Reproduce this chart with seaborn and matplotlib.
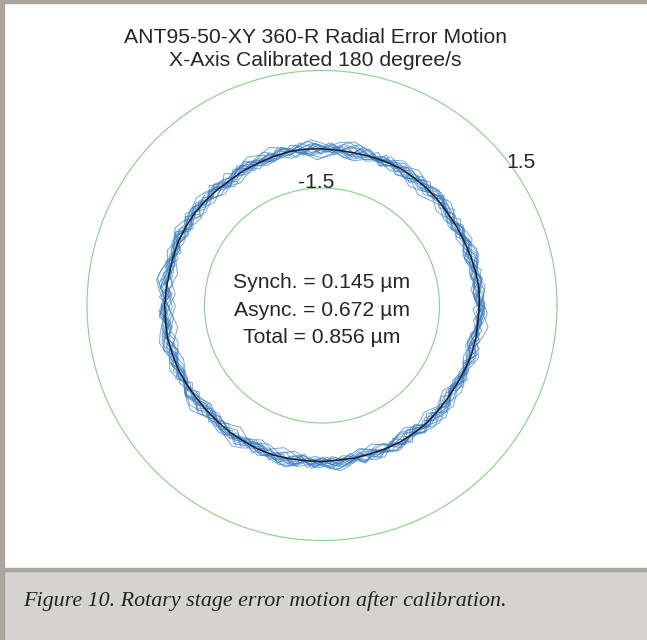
import numpy as np
import pandas as pd
import matplotlib
matplotlib.use("Agg")
import matplotlib.pyplot as plt
from matplotlib.patches import Rectangle
import seaborn as sns

# ============================================================
# DATA  (radial error per revolution)
# ============================================================

TITLE = "ANT95-50-XY 360-R Radial Error Motion\nX-Axis Calibrated 180 degree/s"
STATS = "Synch. = 0.145 µm\nAsync. = 0.672 µm\nTotal = 0.856 µm"
CAPTION = "Figure 10. Rotary stage error motion after calibration."

GRID_LEVELS = [-1.5, 1.5]
BASE_RADIUS = -0.5
ERR_UNIT = 1 / 62.0        # slow revolutions, read in 1/62 grid unit
ERR_UNIT_FINE = 1 / 95.0   # jittery revolutions, read in 1/95 grid unit

# synchronous (average) error profile
mean_dev = [1, 2, 1, 0, -1, -1, -1, 0, 1, 1, 2, 1, 0, -1, -1, 0, 1, 1, 0, -1,
            -1, -2, -1, 0, 1, 1, 1, 0, -1, 0, 1, 1, 2, 1, 1, 0, -1, -1, -1, 0,
            0, 1, 1, 0, -1, -1, -2, -1, -1, 0, 1, 1, 1, 0, -1, -1, 0, 1, 1, 0]

# start angle of each recorded revolution (degrees)
rev_start = [0.0, 7.0, 3.5, 11.0, 1.8, 9.2, 5.4, 13.1]
fine_start = [0.0, 1.9, 0.8, 2.9, 1.3, 3.4, 0.4, 2.3]

rev_a = [3, 7, 2, -4, -9, -6, 1, 5, 12, 9, 4, -1,
         -3, 2, 6, 3, -5, -11, -14, -8, -2, 4, 1, -3,
         0, 6, 10, 14, 11, 5, 0, -4, -7, -2, 3, -1,
         -6, -10, -5, 2, 8, 6, 2, 5, 9, 4, -3, -8,
         -12, -9, -4, 1, -2, -6, -1, 7, 13, 17, 12, 6,
         1, -3, 0, 4, 1, -5, -9, -13, -10, -4, 3, 9,
         5, 1, -2, 3, 8, 11, 6, -1, -7, -4, 0, -4,
         -10, -15, -11, -5, 2, 6, 3, 8, 12, 7, 2, -3,
         -1, 4, 0, -6, -11, -7, -2, 3, 10, 15, 10, 4,
         -1, -5, -9, -6, -1, 3, -2, -7, -4, 2, 6, 1]
rev_b = [-6, -2, 4, 9, 5, -1, 2, 7, 3, -4, -10, -13,
         -7, 0, 6, 11, 15, 10, 3, -2, -6, -3, 1, -3,
         -8, -12, -6, 1, 4, 9, 6, 0, -5, -1, 5, 12,
         8, 2, -4, -9, -14, -9, -3, 2, -1, 4, 10, 7,
         1, -4, -8, -3, 3, 8, 13, 16, 9, 2, -3, 0,
         4, -2, -9, -13, -8, -2, 3, 7, 2, -3, 1, 6,
         11, 6, -1, -7, -11, -16, -10, -3, 4, 8, 5, 9,
         13, 8, 1, -4, -1, 3, -2, -8, -5, 2, 7, 11,
         5, -2, -7, -12, -8, -3, 1, -2, 4, 9, 14, 9,
         3, -3, -7, -3, 2, -3, -9, -6, 0, 5, 1, -4, -8]
rev_c = [8, 12, 6, 0, -5, -2, 3, -1, -7, -12, -8, -1,
         5, 10, 7, 2, 6, 11, 15, 9, 2, -4, -9, -5,
         1, -3, -8, -13, -17, -10, -3, 3, 8, 4, -1, 3,
         8, 4, -3, -6, -2, 5, 10, 14, 10, 3, -3, -8,
         -4, 1, -3, -9, -14, -10, -4, 2, 7, 3, 7, 12,
         16, 11, 4, -2, -6, -2, 2, -2, -7, -11, -6, 0,
         6, 2, -3, 1, 6, 10, 5, -2, -8, -13, -9, -3,
         4, 9, 13, 8, 2, -3, 0, 5, 1, -5, -10, -15,
         -9, -2, 3, 7, 11, 6, 0, -4, 1, 7, 3, -2,
         -7, -3, 2, 8, 14, 9]
rev_d = [-9, -4, 2, -2, -7, -11, -6, 1, 8, 13, 8, 2,
         -2, 3, 7, 2, -4, -9, -5, 0, 5, 11, 16, 11,
         4, -1, -6, -10, -6, -1, 3, -1, -6, -2, 4, 9,
         5, -3, -9, -14, -9, -2, 5, 10, 6, 1, 5, 9,
         4, -2, -7, -3, 2, -3, -10, -16, -11, -4, 3, 8,
         12, 7, 1, -4, 0, 6, 11, 5, -1, -6, -11, -7,
         -1, 4, 1, -4, -8, -3, 4, 9, 14, 9, 3, -2,
         -6, -2, 4, 0, -6, -12, -8, -2, 5, 11, 7, 2,
         6, 10, 5, -1, -5, -10, -14, -8, -2, 3, -1, -5,
         0, 6, 12, 17, 10, 3, -3, -8, -4]
rev_e = [5, 0, -5, -1, 4, 9, 13, 7, 1, -3, -8, -12,
         -7, -2, 2, -2, -6, 0, 7, 12, 6, 0, -5, -2,
         3, 8, 4, -3, -9, -14, -10, -4, 2, 7, 11, 16,
         10, 4, -2, -6, -2, 3, -1, -7, -12, -7, 0, 6,
         3, -2, 2, 7, 12, 7, 1, -5, -10, -15, -9, -3,
         3, 8, 5, 0, 4, 9, 14, 9, 2, -3, -7, -3,
         1, -4, -9, -5, 1, 6, 2, -4, -8, -13, -8, -1,
         5, 10, 6, 1, 5, 10, 15, 10, 3, -2, -6, -11,
         -6, 0, -4, -9, -5, 2, 7, 3, -2, 3, 8, 12,
         7, 0, -6, -10, -6, -1, 4, 1, -4, -9]
rev_f = [-3, 2, 8, 13, 8, 2, -4, -8, -4, 1, -2, -7,
         -12, -16, -10, -3, 3, 8, 4, -1, 4, 9, 13, 7,
         0, -5, -1, 4, -1, -6, -10, -5, 2, 6, 11, 15,
         9, 3, -2, -7, -11, -6, -1, 3, -1, -6, -1, 5,
         10, 5, -1, 3, 8, 12, 6, -1, -6, -12, -8, -2,
         4, 0, -5, -9, -4, 3, 9, 14, 18, 11, 4, -2,
         1, 5, 1, -5, -10, -15, -9, -2, 4, 9, 4, -1,
         -5, -1, 4, 9, 4, -3, -8, -4, 2, 7, 12, 7,
         1, -4, -9, -14, -9, -3, 2, -2, -7, -3, 3, 8,
         13, 8, 2, -3, 1, 5, 0, -6, -11]
rev_g = [10, 5, -1, -6, -11, -7, -2, 3, 0, -4, 1, 7,
         12, 7, 1, -4, -8, -4, 2, 6, 2, -4, -9, -14,
         -8, -1, 5, 10, 15, 9, 3, -2, 2, 6, 1, -5,
         -9, -5, 1, 6, 2, -3, -8, -12, -7, 0, 6, 11,
         7, 2, -3, 1, 5, 9, 4, -3, -8, -13, -17, -11,
         -4, 3, 8, 4, -1, 4, 9, 14, 8, 2, -3, -7,
         -3, 2, -2, -8, -4, 3, 9, 13, 8, 1, -4, -9,
         -5, 0, 5, 1, -5, -10, -15, -9, -2, 4, 9, 5,
         1, 6, 11, 16, 10, 3, -2, -6, -2, 3, -2, -7,
         -11, -6, 0, 5, 10, 6]
rev_h = [-1, -6, -11, -6, 0, 6, 2, -3, 2, 7, 12, 8,
         2, -3, -7, -3, 2, 7, 3, -3, -8, -13, -9, -3,
         3, 8, 13, 8, 2, -3, 1, 5, 0, -5, -10, -15,
         -10, -3, 3, 8, 4, -1, 4, 9, 15, 10, 3, -2,
         -6, -2, 3, -2, -7, -11, -6, 1, 7, 12, 7, 1,
         -4, -8, -4, 1, -3, -8, -13, -8, -1, 6, 11, 16,
         11, 4, -2, 2, 6, 1, -5, -9, -5, 1, 6, 2,
         -4, -9, -14, -9, -2, 4, 9, 5, 0, 5, 10, 14,
         8, 1, -4, -9, -5, 0, 4, -1, -7, -12, -7, -1,
         5, 10, 5, -1, 3, 8]

fine_a = [12, -4, 7, -11, 3, 15, -2, -9, 6, -14, 1, 10,
          -6, 18, 4, -8, -15, 2, 11, -3, 8, -12, -5, 14,
          0, -10, 9, 16, -4, -13, 5, -7, 12, 3, -16, -2,
          10, -8, 6, 19, -1, -11, 4, -6, 13, -3, -14, 7,
          2, 15, -9, -4, 11, -12, 0, 8, -5, 17, 3, -10,
          -15, 6, 9, -2, 14, -7, -11, 4, 12, -1, -8, 16,
          5, -13, -3, 10, -6, 7, 18, -4, -12, 2, 9, -9,
          13, -2, -16, 5, 11, -7, 1, 14, -10, 6, -3, 8]
fine_b = [-8, 5, 13, -6, -14, 3, 9, -1, 16, -10, 4, -5,
          11, -12, -3, 14, 7, -9, 2, 17, -4, -13, 8, -2,
          10, -7, 15, 1, -11, 6, -16, -3, 12, 5, -8, 19,
          -2, -12, 7, -5, 13, 2, -15, 9, -4, 11, -9, 0,
          16, -6, 4, -13, 8, 14, -3, -10, 6, -1, 12, -14,
          3, 9, -7, 18, -2, -11, 10, -5, 1, 15, -8, 5,
          -12, 7, 13, -4, -9, 2, 11, -15, 6, -1, 17, -6,
          -10, 8, 3, -13, 14, -3, 7, -8, 12, 0, -11, 4]
fine_c = [15, -3, -11, 8, 2, -7, 13, -14, 5, 10, -4, 18,
          -9, 1, 12, -6, -16, 7, 3, -2, 14, -10, 9, -5,
          -13, 11, 4, -8, 17, -1, -12, 6, 10, -15, 2, 13,
          -5, 8, -10, 16, 0, -7, 11, -13, 4, 9, -3, 15,
          -11, 6, -4, 12, 19, -8, -2, 10, -14, 3, 7, -6,
          14, -12, 1, 9, -5, 16, -9, -3, 12, 5, -17, 8,
          -2, 11, -8, 4, 15, -11, 6, -4, 13, -15, 2, 10,
          -7, 18, -1, -9, 7, 3, -12, 14, -6, 9, -3, 11]
fine_d = [-5, 10, -13, 4, 16, -8, -2, 11, -10, 6, 14, -3,
          -15, 8, 1, 12, -7, 17, -4, -11, 9, 3, -14, 7,
          13, -6, -1, 15, -12, 5, 9, -9, 2, 18, -5, -13,
          10, -2, 6, -16, 11, 4, -8, 14, -3, 7, -12, 1,
          15, -10, 8, -5, -14, 12, 3, -7, 16, -1, -11, 9,
          5, -15, 13, -4, 2, 10, -9, 17, -6, -12, 8, 0,
          14, -8, 4, -13, 11, 6, -3, 15, -10, 1, 9, -16,
          7, 12, -5, -9, 16, -2, 3, -11, 10, -7, 5, 13]
fine_e = [9, -12, 3, 16, -5, -9, 12, 1, -15, 7, 11, -4,
          -8, 14, 2, -13, 6, 18, -7, -1, 10, -11, 4, 15,
          -6, -14, 9, 0, 13, -10, 5, -3, 17, -8, -12, 8,
          3, 12, -15, 6, -2, 14, -9, 1, 11, -6, 16, -13,
          4, 8, -11, 13, -1, -7, 15, -4, 10, -16, 2, 12,
          -9, 7, -3, 18, -12, 5, 9, -6, -14, 11, 0, 14,
          -5, -10, 8, 2, 13, -8, -15, 6, 10, -2, 17, -11,
          3, -7, 12, 5, -13, 9, -4, 15, -9, 1, 11, -6]
fine_f = [-12, 6, 11, -3, -16, 9, 2, 14, -7, -10, 5, 12,
          -4, 17, -9, 1, 13, -14, 7, -2, 10, 15, -8, -5,
          11, -13, 3, 16, -6, -11, 8, -1, 14, -15, 4, 9,
          -7, 12, 0, -12, 18, -4, 6, -9, 13, 2, -16, 10,
          -3, 7, 15, -11, -5, 12, -8, 4, 17, -1, -13, 8,
          10, -6, -14, 11, 3, -10, 16, -2, 5, -12, 9, 14,
          -9, 1, -15, 13, 6, -4, 11, -7, 18, -13, 2, 8,
          -5, 15, -10, 3, 12, -8, -1, 16, -11, 7, -3, 10]
fine_g = [6, 14, -9, -3, 12, -13, 8, 2, -16, 10, -5, 15,
          1, -11, 7, 13, -6, 3, -14, 11, 16, -8, -2, 9,
          -12, 5, 18, -4, -9, 12, 0, -15, 8, 6, -7, 14,
          -10, 3, 11, -1, -13, 16, -5, 9, 2, -11, 13, -8,
          7, 15, -14, 1, 10, -6, -3, 17, -9, 4, 12, -12,
          -2, 9, 14, -10, 5, -16, 11, 3, -7, 15, -4, 8,
          -13, 12, 1, -9, 17, -3, 6, -11, 10, 4, -15, 13,
          -6, 2, 9, -12, 16, -1, -8, 11, 5, -14, 7, 12]
fine_h = [-10, 3, 15, -7, 9, -14, 1, 12, -5, 17, -11, 6,
          -2, 13, -15, 8, 4, -9, 16, -3, -12, 10, 5, -7,
          14, -1, -16, 11, 7, -10, 2, 18, -6, -13, 9, 3,
          -8, 15, -4, 12, -14, 6, 10, -2, -11, 16, -7, 1,
          13, -12, 8, 4, -15, 11, -5, 14, 2, -9, 17, -6,
          -13, 7, 12, -3, 9, -16, 5, 11, -1, -10, 15, -8,
          3, 13, -11, 6, -4, 18, -9, 2, 10, -14, 8, -2,
          16, -7, -12, 9, 4, -5, 14, -10, 1, 12, -6, 7]

revolutions = [rev_a, rev_b, rev_c, rev_d, rev_e, rev_f, rev_g, rev_h]
fine_revolutions = [fine_a, fine_b, fine_c, fine_d,
                    fine_e, fine_f, fine_g, fine_h]

# ============================================================
# BUILD FRAMES
# ============================================================

def closed(vals, start_deg=0.0, unit=ERR_UNIT):
    v = np.asarray(list(vals) + list(vals[:1]), dtype=float) * unit
    th = np.deg2rad(start_deg) + np.linspace(0, 2 * np.pi, len(vals) + 1)
    return th, v

frames = []
for i, (rev, start) in enumerate(zip(revolutions, rev_start)):
    th, dev = closed(rev, start)
    frames.append(pd.DataFrame({"rev": i, "theta": th, "r": BASE_RADIUS + dev}))
for i, (rev, start) in enumerate(zip(fine_revolutions, fine_start)):
    th, dev = closed(rev, start, ERR_UNIT_FINE)
    frames.append(pd.DataFrame({"rev": 100 + i, "theta": th,
                                "r": BASE_RADIUS + dev}))
df = pd.concat(frames, ignore_index=True)

th_m, m_m = closed(mean_dev)
df_mean = pd.DataFrame({"theta": th_m, "r": BASE_RADIUS + m_m})

# ============================================================
# FIGURE
# ============================================================

sns.set_style("white")
plt.rcParams["font.family"] = ["Liberation Sans", "DejaVu Sans"]

W, H = 647, 640
fig = plt.figure(figsize=(W / 100, H / 100), dpi=100)
fig.patch.set_facecolor("white")

# frame + caption band
fig.patches.append(Rectangle((0, 0), 1, 70 / H, transform=fig.transFigure,
                             color="#d6d3cf", zorder=0))
fig.patches.append(Rectangle((0, 69 / H), 1, 3 / H, transform=fig.transFigure,
                             color="#aca59d", zorder=1))
fig.patches.append(Rectangle((0, 0), 4 / W, 1, transform=fig.transFigure,
                             color="#aca59d", zorder=1))
fig.patches.append(Rectangle((0, 1 - 3 / H), 1, 3 / H, transform=fig.transFigure,
                             color="#aca59d", zorder=1))

# polar axes: center (322, 305.5) px, -1.5 at 117.5 px, 1.5 at 235 px
cx, cy = 322, 305.5
rmin, rmax = -4.5, 1.6
ppu = 117.5 / 3.0
R = (rmax - rmin) * ppu
ax = fig.add_axes([(cx - R) / W, (H - cy - R) / H, 2 * R / W, 2 * R / H],
                  projection="polar")
ax.set_facecolor("none")
ax.set_rlim(rmin, rmax)
ax.set_yticks(GRID_LEVELS)
ax.set_yticklabels([])
ax.set_xticks([])
ax.yaxis.grid(True, color="#86d186", lw=0.8)
ax.xaxis.grid(False)
ax.spines["polar"].set_visible(False)

sns.lineplot(data=df, x="theta", y="r", units="rev", estimator=None,
             sort=False, color="#3a80cc", lw=0.7, alpha=0.7,
             solid_joinstyle="round", ax=ax)
sns.lineplot(data=df_mean, x="theta", y="r", estimator=None, sort=False,
             color="#1e1e1e", lw=1.1, ax=ax)
ax.set_xlabel("")
ax.set_ylabel("")

# texts
fig.text(315 / W, 1 - 49 / H, TITLE, ha="center", va="center",
         fontsize=15.2, linespacing=1.32)
fig.text(322 / W, 1 - 310 / H, STATS, ha="center", va="center",
         fontsize=15.2, linespacing=1.55)
fig.text(521 / W, 1 - 162 / H, "1.5", ha="center", va="center", fontsize=15.2)
fig.text(316 / W, 1 - 182 / H, "-1.5", ha="center", va="center", fontsize=15.2)
fig.text(23 / W, 1 - 601 / H, CAPTION, ha="left", va="center", fontsize=15.8,
         family=["Liberation Serif", "DejaVu Serif"], style="italic",
         color="#222222")

fig.savefig("out.png", dpi=100)
